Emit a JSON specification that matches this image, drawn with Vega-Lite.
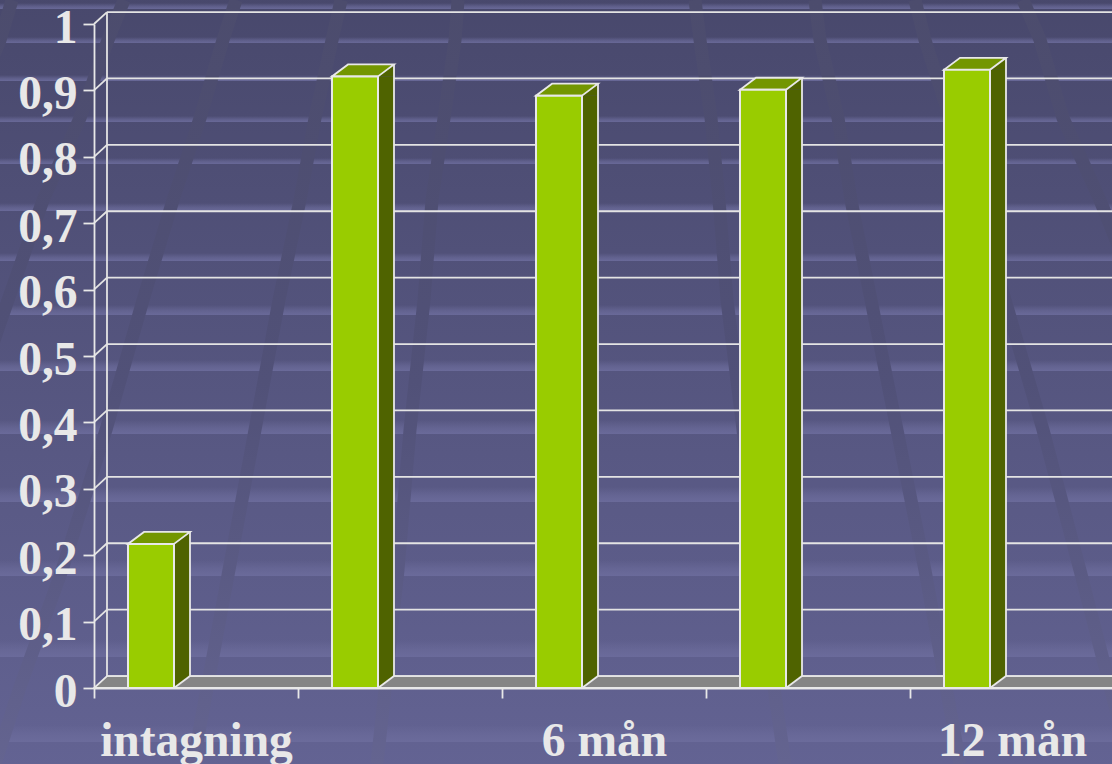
{
  "$schema": "https://vega.github.io/schema/vega-lite/v6.json",
  "width": 1018,
  "height": 664,
  "autosize": {"type": "none"},
  "padding": {"left": 94, "top": 24, "right": 0, "bottom": 76},
  "background": "#55557f",
  "datasets": {
    "shares": [
      {"period": "intagning", "share": 0.217},
      {"period": " ", "share": 0.921},
      {"period": "6 mån", "share": 0.892},
      {"period": "  ", "share": 0.901},
      {"period": "12 mån", "share": 0.931}
    ],
    "levels": [
      {"level": 0, "wall": 0.018},
      {"level": 0.1, "wall": 0.118},
      {"level": 0.2, "wall": 0.218},
      {"level": 0.3, "wall": 0.318},
      {"level": 0.4, "wall": 0.418},
      {"level": 0.5, "wall": 0.518},
      {"level": 0.6, "wall": 0.618},
      {"level": 0.7, "wall": 0.718},
      {"level": 0.8, "wall": 0.818},
      {"level": 0.9, "wall": 0.918},
      {"level": 1, "wall": 1.018}
    ],
    "floor": [
      {"slot": 0, "near": 0, "far": 0},
      {"slot": 0.0637, "near": 0, "far": 0.018},
      {"slot": 5.1, "near": 0, "far": 0.018}
    ],
    "stripes": [
      {"top": 0.39, "bottom": 1.18},
      {"top": 4.84, "bottom": 5.63},
      {"top": 9.82, "bottom": 10.6},
      {"top": 15.18, "bottom": 15.97},
      {"top": 20.68, "bottom": 21.47},
      {"top": 26.57, "bottom": 27.62},
      {"top": 33.12, "bottom": 34.16},
      {"top": 39.92, "bottom": 41.23},
      {"top": 47.12, "bottom": 48.56},
      {"top": 54.97, "bottom": 56.81},
      {"top": 63.74, "bottom": 65.71},
      {"top": 73.3, "bottom": 75.39},
      {"top": 83.77, "bottom": 85.99},
      {"top": 94.9, "bottom": 97.12}
    ],
    "rays": [
      {"ray": "A", "across": 1.08, "down": 0},
      {"ray": "A", "across": 0, "down": 5.24},
      {"ray": "A", "across": -27, "down": 100},
      {"ray": "B", "across": 11.15, "down": 0},
      {"ray": "B", "across": 9.71, "down": 5.24},
      {"ray": "B", "across": 7.19, "down": 15.45},
      {"ray": "B", "across": 3.87, "down": 26.18},
      {"ray": "B", "across": 0, "down": 42.28},
      {"ray": "B", "across": -13.49, "down": 100},
      {"ray": "C", "across": 21.22, "down": 0},
      {"ray": "C", "across": 20.05, "down": 5.24},
      {"ray": "C", "across": 17.99, "down": 15.45},
      {"ray": "C", "across": 15.56, "down": 26.18},
      {"ray": "C", "across": 12.86, "down": 39.27},
      {"ray": "C", "across": 9.53, "down": 56.28},
      {"ray": "C", "across": 5.58, "down": 74.61},
      {"ray": "C", "across": 1.8, "down": 89.92},
      {"ray": "C", "across": -0.45, "down": 100},
      {"ray": "D", "across": 30.67, "down": 0},
      {"ray": "D", "across": 29.86, "down": 5.24},
      {"ray": "D", "across": 28.33, "down": 15.45},
      {"ray": "D", "across": 26.98, "down": 26.18},
      {"ray": "D", "across": 25.09, "down": 39.27},
      {"ray": "D", "across": 22.93, "down": 56.28},
      {"ray": "D", "across": 20.59, "down": 74.61},
      {"ray": "D", "across": 17.36, "down": 100},
      {"ray": "E", "across": 41.19, "down": 0},
      {"ray": "E", "across": 40.92, "down": 5.24},
      {"ray": "E", "across": 39.93, "down": 15.45},
      {"ray": "E", "across": 38.85, "down": 26.18},
      {"ray": "E", "across": 38.13, "down": 39.27},
      {"ray": "E", "across": 36.87, "down": 56.28},
      {"ray": "E", "across": 35.79, "down": 74.61},
      {"ray": "E", "across": 33.9, "down": 100},
      {"ray": "F", "across": 51.89, "down": 0},
      {"ray": "F", "across": 51.89, "down": 100},
      {"ray": "G", "across": 62.5, "down": 0},
      {"ray": "G", "across": 62.95, "down": 5.24},
      {"ray": "G", "across": 63.94, "down": 15.45},
      {"ray": "G", "across": 64.66, "down": 26.18},
      {"ray": "G", "across": 65.38, "down": 39.27},
      {"ray": "G", "across": 66.82, "down": 56.28},
      {"ray": "G", "across": 68.08, "down": 74.61},
      {"ray": "G", "across": 70.59, "down": 100},
      {"ray": "H", "across": 73.29, "down": 0},
      {"ray": "H", "across": 73.74, "down": 5.24},
      {"ray": "H", "across": 75.36, "down": 15.45},
      {"ray": "H", "across": 76.53, "down": 26.18},
      {"ray": "H", "across": 78.33, "down": 39.27},
      {"ray": "H", "across": 80.67, "down": 56.28},
      {"ray": "H", "across": 83.18, "down": 74.61},
      {"ray": "H", "across": 86.33, "down": 100},
      {"ray": "I", "across": 82.28, "down": 0},
      {"ray": "I", "across": 83.18, "down": 5.24},
      {"ray": "I", "across": 85.43, "down": 15.45},
      {"ray": "I", "across": 87.68, "down": 26.18},
      {"ray": "I", "across": 90.2, "down": 38.35},
      {"ray": "I", "across": 93.8, "down": 56.28},
      {"ray": "I", "across": 97.12, "down": 74.61},
      {"ray": "I", "across": 101.62, "down": 100},
      {"ray": "J", "across": 92, "down": 0},
      {"ray": "J", "across": 93.53, "down": 5.24},
      {"ray": "J", "across": 95.59, "down": 15.45},
      {"ray": "J", "across": 98.92, "down": 26.18},
      {"ray": "J", "across": 102.5, "down": 39.27},
      {"ray": "J", "across": 116.9, "down": 100}
    ]
  },
  "config": {
    "axisY": {
      "grid": false,
      "domainColor": "#e8e8e8",
      "domainWidth": 1.8,
      "tickColor": "#e8e8e8",
      "tickWidth": 1.8,
      "tickSize": 11,
      "labelPadding": 6,
      "labelColor": "#e8e8e8",
      "labelFont": "Liberation Serif",
      "labelFontWeight": "bold",
      "labelFontSize": 47.5,
      "labelOffset": 4,
      "labelOverlap": false,
      "labelBound": false,
      "labelFlush": false
    }
  },
  "resolve": {"scale": {"x": "independent", "y": "independent"}},
  "layer": [
    {
      "description": "Slide backdrop, measured in percent of the slide",
      "layer": [
        {
          "data": {"values": [{}]},
          "mark": {
            "type": "rect",
            "fill": {
              "gradient": "linear", "x1": 0, "y1": 0, "x2": 0, "y2": 1,
              "stops": [
                {"offset": 0, "color": "#48486c"},
                {"offset": 1, "color": "#636393"}
              ]
            }
          },
          "encoding": {
            "x": {"datum": -1, "type": "quantitative", "scale": {"domain": [8.453, 100], "nice": false, "zero": false}, "axis": null},
            "x2": {"datum": 101},
            "y": {"datum": -1, "type": "quantitative", "scale": {"domain": [90.05, 3.14], "nice": false, "zero": false}, "axis": null},
            "y2": {"datum": 101}
          }
        },
        {
          "data": {"name": "stripes"},
          "mark": {
            "type": "rect",
            "fill": {
              "gradient": "linear", "x1": 0, "y1": 0, "x2": 0, "y2": 1,
              "stops": [
                {"offset": 0, "color": "rgba(108,108,156,0)"},
                {"offset": 0.55, "color": "rgba(108,108,156,0.6)"},
                {"offset": 1, "color": "rgba(108,108,156,0.9)"}
              ]
            }
          },
          "encoding": {
            "x": {"datum": -1, "type": "quantitative", "scale": {"domain": [8.453, 100], "nice": false, "zero": false}, "axis": null},
            "x2": {"datum": 101},
            "y": {"field": "top", "type": "quantitative", "scale": {"domain": [90.05, 3.14], "nice": false, "zero": false}, "axis": null},
            "y2": {"field": "bottom"}
          }
        },
        {
          "data": {"name": "rays"},
          "mark": {
            "type": "line",
            "strokeWidth": 13,
            "strokeCap": "butt",
            "stroke": {
              "gradient": "linear", "x1": 0, "y1": 0, "x2": 0, "y2": 1,
              "stops": [
                {"offset": 0, "color": "#4c4c6d"},
                {"offset": 0.5, "color": "#515178"},
                {"offset": 1, "color": "#646490"}
              ]
            }
          },
          "encoding": {
            "x": {"field": "across", "type": "quantitative", "scale": {"domain": [8.453, 100], "nice": false, "zero": false}, "axis": null},
            "y": {"field": "down", "type": "quantitative", "scale": {"domain": [90.05, 3.14], "nice": false, "zero": false}, "axis": null},
            "detail": {"field": "ray"},
            "order": {"field": "down", "type": "quantitative"}
          }
        }
      ]
    },
    {
      "description": "Back wall and floor of the 3-D frame",
      "layer": [
        {
          "data": {"name": "floor"},
          "mark": {"type": "area", "orient": "vertical", "fill": "#858585", "stroke": "#e8e8e8", "strokeWidth": 1.8},
          "encoding": {
            "x": {"field": "slot", "type": "quantitative", "scale": {"domain": [0, 4.99], "nice": false, "zero": false}, "axis": null},
            "y": {"field": "near", "type": "quantitative", "scale": {"domain": [0, 1], "nice": false}, "axis": null},
            "y2": {"field": "far"}
          }
        },
        {
          "data": {"name": "levels"},
          "mark": {"type": "rule", "color": "#e4e4e4", "strokeWidth": 1.8},
          "encoding": {
            "x": {"datum": 0.0637, "type": "quantitative", "scale": {"domain": [0, 4.99], "nice": false, "zero": false}, "axis": null},
            "x2": {"datum": 5.1},
            "y": {"field": "wall", "type": "quantitative", "scale": {"domain": [0, 1], "nice": false}, "axis": null}
          }
        },
        {
          "data": {"name": "levels"},
          "transform": [{"filter": "datum.level > 0"}],
          "mark": {"type": "rule", "color": "#e4e4e4", "strokeWidth": 1.8},
          "encoding": {
            "x": {"datum": 0, "type": "quantitative", "scale": {"domain": [0, 4.99], "nice": false, "zero": false}, "axis": null},
            "x2": {"datum": 0.0637},
            "y": {"field": "level", "type": "quantitative", "scale": {"domain": [0, 1], "nice": false}, "axis": null},
            "y2": {"field": "wall"}
          }
        },
        {
          "data": {"values": [{}]},
          "mark": {"type": "rule", "color": "#e4e4e4", "strokeWidth": 1.8},
          "encoding": {
            "x": {"datum": 0.0637, "type": "quantitative", "scale": {"domain": [0, 4.99], "nice": false, "zero": false}, "axis": null},
            "y": {"datum": 0.018, "type": "quantitative", "scale": {"domain": [0, 1], "nice": false}, "axis": null},
            "y2": {"datum": 1.018}
          }
        }
      ]
    },
    {
      "description": "One 3-D column per reading: side, top and front faces, with both axes",
      "data": {"name": "shares"},
      "encoding": {
        "x": {
          "field": "period",
          "type": "nominal",
          "sort": null,
          "scale": {"domain": ["intagning", " ", "6 mån", "  ", "12 mån"], "range": [0, 1020], "paddingInner": 0, "paddingOuter": 0},
          "axis": {
            "title": null,
            "labelAngle": 0,
            "tickBand": "extent",
            "zindex": 1,
            "domainColor": "#e8e8e8",
            "domainWidth": 1.8,
            "tickColor": "#e8e8e8",
            "tickWidth": 1.8,
            "tickSize": 10,
            "labelBaseline": "alphabetic",
            "labelPadding": 57,
            "labelColor": "#e8e8e8",
            "labelFont": "Liberation Serif",
            "labelFontWeight": "bold",
            "labelFontSize": 47.5,
            "labelLimit": 400,
            "labelOverlap": false,
            "labelBound": false,
            "labelFlush": false
          }
        },
        "y": {
          "field": "share",
          "type": "quantitative",
          "scale": {"domain": [0, 1], "nice": false},
          "axis": {"title": null, "zindex": 1, "values": [0, 0.1, 0.2, 0.3, 0.4, 0.5, 0.6, 0.7, 0.8, 0.9, 1], "format": ".1~f", "labelExpr": "replace(datum.label, '.', ',')"}
        }
      },
      "layer": [
        {
          "mark": {"type": "bar", "size": 16, "xOffset": -14, "fill": "#4f6300", "stroke": null},
          "encoding": {"y2": {"datum": 0.018}}
        },
        {
          "mark": {"type": "point", "filled": true, "opacity": 1, "size": 4, "xOffset": -45, "shape": "M23 0L39 -12L39 0Z", "fill": "#4f6300", "strokeWidth": 0}
        },
        {
          "mark": {"type": "point", "filled": true, "opacity": 1, "size": 4, "xOffset": -45, "shape": "M23 0L23 -12L39 -12Z", "fill": "#4f6300", "strokeWidth": 0},
          "encoding": {"y": {"datum": 0, "type": "quantitative", "scale": {"domain": [0, 1], "nice": false},
            "axis": {"title": null, "zindex": 1, "values": [0, 0.1, 0.2, 0.3, 0.4, 0.5, 0.6, 0.7, 0.8, 0.9, 1], "format": ".1~f", "labelExpr": "replace(datum.label, '.', ',')"}}}
        },
        {
          "mark": {"type": "point", "filled": false, "opacity": 1, "size": 4, "xOffset": -45, "shape": "M23 0L39 -12", "fill": null, "stroke": "#e8e8e8", "strokeWidth": 1.8},
          "encoding": {"y": {"datum": 0, "type": "quantitative", "scale": {"domain": [0, 1], "nice": false},
            "axis": {"title": null, "zindex": 1, "values": [0, 0.1, 0.2, 0.3, 0.4, 0.5, 0.6, 0.7, 0.8, 0.9, 1], "format": ".1~f", "labelExpr": "replace(datum.label, '.', ',')"}}}
        },
        {
          "mark": {"type": "rule", "color": "#e8e8e8", "strokeWidth": 1.8, "xOffset": -6, "yOffset": -12, "y2Offset": -12},
          "encoding": {"y2": {"datum": 0}}
        },
        {
          "mark": {"type": "point", "filled": true, "opacity": 1, "size": 4, "xOffset": -45, "shape": "M-23 0L23 0L39 -12L-7 -12Z", "fill": "#739600", "stroke": "#e8e8e8", "strokeWidth": 1.8}
        },
        {
          "mark": {"type": "bar", "size": 46, "xOffset": -45, "fill": "#99cc00", "stroke": "#e8e8e8", "strokeWidth": 2}
        }
      ]
    }
  ]
}
